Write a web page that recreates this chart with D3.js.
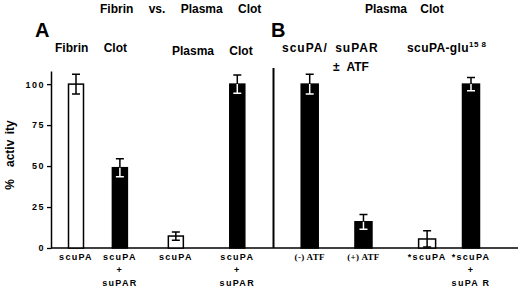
<!DOCTYPE html>
<meta charset="utf-8">
<script src="https://d3js.org/d3.v7.min.js"></script>
<style>
  body { margin: 0; background: #fff; }
  text { font-family: "Liberation Sans", Arial, sans-serif; font-weight: bold; fill: #000; }
  .serif { font-family: "Liberation Serif", "Times New Roman", serif; }
</style>
<body>
<div id="my_dataviz"></div>
<script>

  // Data
  var panels    = ["A", "A", "A", "A", "B", "B", "B", "B"];
  var withSuPAR = [false, true, false, true, true, true, false, true];
  var values    = [100, 49, 7.3, 100, 100, 16, 5.5, 100];
  var errors    = [6, 5.5, 2.5, 5.5, 6, 4.5, 5, 4];
  var xLabels   = [
    ["scuPA"], ["scuPA", "+", "suPAR"], ["scuPA"], ["scuPA", "+", "suPAR"],
    ["(-) ATF"], ["(+) ATF"], ["*scuPA"], ["*scuPA", "+", "suPA R"]
  ];
  var yTicks = [0, 25, 50, 75, 100];

  // Layout: bar slot along the x axis (uneven gaps as in the figure)
  var slots = [0, 4, 9.1, 14.7, 21.3, 26.2, 32, 36];
  var dividerSlot = 18;

  var width = 520, height = 287;

  var svg = d3.select("#my_dataviz")
    .append("svg")
      .attr("width", width)
      .attr("height", height);

  var x = d3.scaleLinear().domain([0, 36]).range([76, 471]);
  var y = d3.scaleLinear().domain([0, 108]).range([248, 71]);
  var fill = d3.scaleOrdinal().domain([false, true]).range(["#fff", "#000"]);
  var barW = d3.scaleOrdinal().domain(["A", "B"]).range([15, 17]);

  var data = values.map(function(v, i) {
    return { value: v, err: errors[i], su: withSuPAR[i], panel: panels[i], label: xLabels[i], slot: slots[i] };
  });

  // Y axis
  var yAxis = svg.append("g")
    .attr("transform", "translate(51,0)")
    .call(d3.axisLeft(y).tickValues(yTicks).tickSize(4).tickSizeOuter(0).tickFormat(d3.format("d")));
  yAxis.select(".domain").attr("stroke-width", 1.5);
  yAxis.selectAll(".tick line").attr("stroke-width", 1.3);
  yAxis.selectAll(".tick text")
    .attr("x", -6)
    .style("font-size", "9px")
    .style("letter-spacing", "1.5px")
    .style("font-family", "'Liberation Sans', Arial, sans-serif")
    .style("font-weight", "bold");

  // Baseline and panel divider
  svg.append("line")
    .attr("x1", 51).attr("x2", 518)
    .attr("y1", y(0)).attr("y2", y(0))
    .attr("stroke", "#000").attr("stroke-width", 1.5);

  svg.append("line")
    .attr("x1", x(dividerSlot)).attr("x2", x(dividerSlot))
    .attr("y1", y(108) - 3).attr("y2", y(0))
    .attr("stroke", "#000").attr("stroke-width", 2);

  // Bars
  svg.selectAll("rect.bar")
    .data(data)
    .enter()
    .append("rect")
      .attr("class", "bar")
      .attr("x", function(d) { return x(d.slot) - barW(d.panel) / 2; })
      .attr("y", function(d) { return y(d.value); })
      .attr("width", function(d) { return barW(d.panel); })
      .attr("height", function(d) { return y(0) - y(d.value); })
      .attr("fill", function(d) { return fill(d.su); })
      .attr("stroke", "#000")
      .attr("stroke-width", 1.5);

  // Error bars: upper half in black, lower half drawn inside the bar in contrast colour
  var eb = svg.selectAll("g.err")
    .data(data)
    .enter()
    .append("g")
      .attr("class", "err");

  eb.append("path")
    .attr("fill", "none")
    .attr("stroke", "#000")
    .attr("stroke-width", 1.5)
    .attr("d", function(d) {
      var cx = x(d.slot), t = y(d.value + d.err);
      return "M" + cx + "," + y(d.value) + "V" + t + "M" + (cx - 4) + "," + t + "H" + (cx + 4);
    });

  eb.append("path")
    .attr("fill", "none")
    .attr("stroke", function(d) { return d.su ? "#fff" : "#000"; })
    .attr("stroke-width", 1.5)
    .attr("d", function(d) {
      var cx = x(d.slot), b = y(Math.max(d.value - d.err, 0.6));
      return "M" + cx + "," + y(d.value) + "V" + b + "M" + (cx - 4) + "," + b + "H" + (cx + 4);
    });

  // X labels (stacked lines)
  var lab = svg.selectAll("text.xlab")
    .data(data)
    .enter()
    .append("text")
      .attr("class", function(d) { return d.label[0].indexOf("ATF") >= 0 ? "xlab serif" : "xlab"; })
      .attr("text-anchor", "middle")
      .style("font-size", "9px")
      .style("letter-spacing", function(d) { return d.label[0].indexOf("ATF") >= 0 ? "0.3px" : "1.3px"; });

  lab.selectAll("tspan")
    .data(function(d) { return d.label.map(function(s, j) { return { s: s, j: j, cx: x(d.slot) }; }); })
    .enter()
    .append("tspan")
      .attr("x", function(t) { return t.cx; })
      .attr("y", function(t) { return y(0) + 12 + t.j * 13; })
      .text(function(t) { return t.s; });

  // Y label
  var ylab = svg.append("text")
    .attr("transform", "translate(14,155) rotate(-90)")
    .attr("text-anchor", "middle")
    .style("font-size", "12px")
    .style("word-spacing", "2px");
  ylab.append("tspan").text("%");
  ylab.append("tspan").attr("dx", 12).text("activ ity");

  // Titles
  function title(txt, px, py, size, ws) {
    return svg.append("text")
      .attr("x", px).attr("y", py)
      .style("font-size", size + "px")
      .style("word-spacing", (ws || 0) + "px")
      .text(txt);
  }
  title("Fibrin vs. Plasma Clot", 100, 13, 12, 12);
  title("A", 35, 37, 20);
  title("Fibrin Clot", 55, 52, 12, 12);
  title("Plasma Clot", 172, 55, 12, 12);
  title("Plasma Clot", 365, 13, 12, 10);
  title("B", 271, 37, 20);
  title("scuPA/ suPAR", 282, 52, 12, 3).style("letter-spacing", "1px");
  title("± ATF", 333, 71, 12, 4);
  var glu = title("scuPA-glu", 407, 52, 12, 0).style("letter-spacing", "0.4px");
  glu.append("tspan")
    .attr("dy", -5)
    .style("font-size", "8px")
    .text("15 8");

</script>
</body>
